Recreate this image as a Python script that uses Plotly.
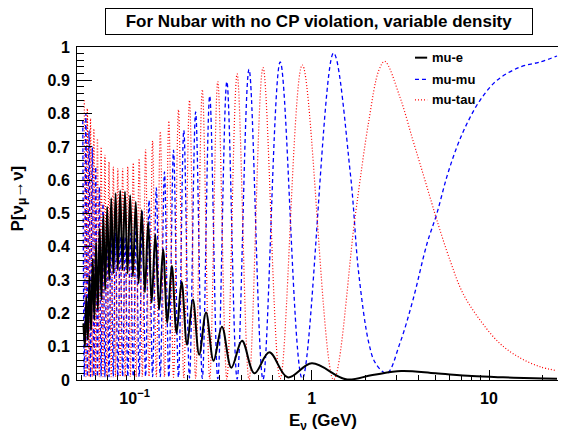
import math
import plotly.graph_objects as go

# ---------------- data ----------------
# mu -> e (black, solid): extrema and a few shape points
E_mue = [0.0514, 0.0524, 0.0534, 0.0545, 0.0556, 0.0568, 0.0580, 0.0593, 0.0606, 0.0620,
         0.0635, 0.0650, 0.0666, 0.0682, 0.0700, 0.0719, 0.0738, 0.0759, 0.0781, 0.0804,
         0.0829, 0.0855, 0.0882, 0.0912, 0.0944, 0.0978, 0.1015, 0.1054, 0.1097, 0.1143,
         0.1193, 0.1248, 0.1309, 0.1375, 0.1448, 0.1530, 0.1622, 0.1725, 0.1842, 0.1977,
         0.2132, 0.2314, 0.2530, 0.2791, 0.3111, 0.3515, 0.4039, 0.4746, 0.5754, 0.7305,
         1.0, 1.56, 2.2, 3.2, 5.0, 8.0, 12.0, 18.0, 24.2]
P_mue = [0.17, 0.10, 0.25, 0.12, 0.313, 0.15, 0.364, 0.18, 0.414, 0.21,
         0.455, 0.24, 0.495, 0.27, 0.52, 0.30, 0.546, 0.32, 0.561, 0.33,
         0.569, 0.33, 0.566, 0.32, 0.555, 0.31, 0.535, 0.29, 0.51, 0.263,
         0.475, 0.232, 0.437, 0.212, 0.392, 0.172, 0.343, 0.141, 0.295, 0.106,
         0.242, 0.076, 0.203, 0.058, 0.16, 0.037, 0.118, 0.02, 0.083, 0.008,
         0.05, 0.002, 0.015, 0.027, 0.02, 0.012, 0.008, 0.005, 0.004]

# mu -> mu (blue, dashed)
E_mumu = [0.0510, 0.0520, 0.0531, 0.0541, 0.0553, 0.0564, 0.0577, 0.0589, 0.0603, 0.0617,
          0.0632, 0.0647, 0.0663, 0.0680, 0.0698, 0.0717, 0.0737, 0.0758, 0.0780, 0.0804,
          0.0829, 0.0856, 0.0884, 0.0915, 0.0947, 0.0982, 0.1020, 0.1061, 0.1105, 0.1153,
          0.1206, 0.1263, 0.1326, 0.1396, 0.1474, 0.1560, 0.1658, 0.1768, 0.1895, 0.2040,
          0.2210, 0.2411, 0.2653, 0.2947, 0.3316, 0.3789, 0.4421, 0.5305, 0.663, 0.884,
          1.326, 1.65, 1.84, 2.10, 2.29, 2.653, 3.14, 3.72, 4.47, 5.08,
          5.78, 6.59, 7.51, 8.9, 11.1, 15.0, 19.4, 24.2]
P_mumu = [0.78, 0.01, 0.80, 0.01, 0.75, 0.01, 0.70, 0.01, 0.64, 0.01,
          0.58, 0.01, 0.53, 0.01, 0.49, 0.01, 0.46, 0.01, 0.44, 0.01,
          0.43, 0.01, 0.43, 0.01, 0.44, 0.01, 0.47, 0.01, 0.505, 0.01,
          0.54, 0.01, 0.577, 0.01, 0.625, 0.008, 0.69, 0.008, 0.75, 0.006,
          0.805, 0.005, 0.853, 0.004, 0.896, 0.003, 0.933, 0.002, 0.955, 0.004,
          0.982, 0.62, 0.32, 0.11, 0.05, 0.02, 0.11, 0.24, 0.41, 0.50,
          0.61, 0.70, 0.77, 0.84, 0.90, 0.94, 0.955, 0.973]

# mu -> tau (red, dotted)
E_mutau = [0.0520, 0.0531, 0.0541, 0.0553, 0.0564, 0.0577, 0.0589, 0.0603, 0.0617, 0.0632,
           0.0647, 0.0663, 0.0680, 0.0698, 0.0717, 0.0737, 0.0758, 0.0780, 0.0804, 0.0829,
           0.0856, 0.0884, 0.0915, 0.0947, 0.0982, 0.1020, 0.1061, 0.1105, 0.1153, 0.1206,
           0.1263, 0.1326, 0.1396, 0.1474, 0.1560, 0.1658, 0.1768, 0.1895, 0.2040, 0.2210,
           0.2411, 0.2653, 0.2947, 0.3316, 0.3789, 0.4421, 0.5305, 0.663, 0.884, 1.326,
           1.76, 2.10, 2.39, 2.58, 3.14, 3.72, 4.24, 4.76, 5.08, 6.02,
           7.13, 8.9, 11.5, 15.0, 19.4, 24.2]
P_mutau = [0.84, 0.01, 0.815, 0.01, 0.785, 0.01, 0.755, 0.01, 0.725, 0.01,
           0.70, 0.01, 0.675, 0.01, 0.655, 0.01, 0.64, 0.01, 0.635, 0.01,
           0.635, 0.01, 0.64, 0.01, 0.652, 0.01, 0.665, 0.01, 0.692, 0.01,
           0.718, 0.01, 0.746, 0.01, 0.778, 0.008, 0.812, 0.006, 0.84, 0.005,
           0.872, 0.004, 0.896, 0.003, 0.919, 0.002, 0.938, 0.004, 0.946, 0.001,
           0.495, 0.78, 0.93, 0.957, 0.85, 0.72, 0.62, 0.53, 0.48, 0.36,
           0.26, 0.18, 0.11, 0.066, 0.04, 0.028]

series_names = ["mu-e", "mu-mu", "mu-tau"]
title_text = "For Nubar with no CP violation, variable density"
x_tick_vals = [0.1, 1, 10]
x_tick_text = ["10<sup>\u22121</sup>", "1", "10"]

# ---------------- figure ----------------
FONT = "Liberation Sans, Arial, Helvetica, sans-serif"
BLUE_DASH = "4px,3px"
RED_DASH = "1px,2px"
fig = go.Figure()
fig.add_trace(go.Scatter(x=E_mumu, y=P_mumu, mode="lines", name=series_names[1],
                         line=dict(color="#0000ff", width=1.3, dash=BLUE_DASH,
                                   shape="spline", smoothing=1), showlegend=False))
fig.add_trace(go.Scatter(x=E_mutau, y=P_mutau, mode="lines", name=series_names[2],
                         line=dict(color="#ff0000", width=1.2, dash=RED_DASH,
                                   shape="spline", smoothing=1), showlegend=False))
fig.add_trace(go.Scatter(x=E_mue, y=P_mue, mode="lines", name=series_names[0],
                         line=dict(color="#000000", width=2,
                                   shape="spline", smoothing=1), showlegend=False))

minor_x = [m * 10 ** k for k in range(-2, 2) for m in range(2, 10)]

# the page body adds an 8px offset, so the figure is 8px smaller than the window
fig.update_layout(
    width=558, height=424,
    margin=dict(l=69, r=2, t=39, b=52, autoexpand=False),
    paper_bgcolor="white", plot_bgcolor="white",
    font=dict(family=FONT, size=16, color="black", weight="bold"),
    xaxis=dict(type="log", range=[math.log10(0.0473), math.log10(26.5)],
               tickmode="array", tickvals=x_tick_vals, ticktext=x_tick_text,
               ticks="inside", ticklen=10, tickwidth=1, tickcolor="black",
               minor=dict(tickmode="array", tickvals=minor_x, ticks="inside",
                          ticklen=5, tickwidth=1, tickcolor="black", showgrid=False),
               showline=True, linecolor="black", linewidth=1, mirror=True,
               showgrid=False, zeroline=False, ticklabelstandoff=4, automargin=False,
               tickfont=dict(family=FONT, size=16, weight="bold")),
    yaxis=dict(range=[0, 1], tickmode="linear", tick0=0, dtick=0.1,
               ticks="inside", ticklen=15, tickwidth=1, tickcolor="black",
               minor=dict(dtick=0.02, ticks="inside", ticklen=7, tickwidth=1,
                          tickcolor="black", showgrid=False),
               showline=True, linecolor="black", linewidth=1, mirror=True,
               showgrid=False, zeroline=False, ticklabelstandoff=3, automargin=False,
               tickfont=dict(family=FONT, size=16, weight="bold")),
)

# title box
fig.add_annotation(xref="paper", yref="paper", x=0.497, y=1.077,
                   xanchor="center", yanchor="middle", showarrow=False,
                   text=title_text, font=dict(family=FONT, size=17, weight="bold"),
                   bordercolor="black", borderwidth=1, borderpad=3,
                   bgcolor="white", width=420, height=19)
# axis titles
fig.add_annotation(xref="paper", yref="paper", x=0.505, y=-0.126,
                   xanchor="center", yanchor="middle", showarrow=False,
                   text="E<sub>\u03bd</sub> (GeV)",
                   font=dict(family=FONT, size=17, weight="bold"))
fig.add_annotation(xref="paper", yref="paper", x=-0.121, y=0.545,
                   xanchor="center", yanchor="middle", showarrow=False, textangle=-90,
                   text="P[\u03bd<sub>\u03bc</sub>\u2192\u03bd]",
                   font=dict(family=FONT, size=17, weight="bold"))

# legend (drawn manually, ROOT style: short samples, no border)
leg_rows = [0.968, 0.903, 0.841]
leg_styles = [dict(color="#000000", width=2, dash="solid"),
              dict(color="#0000ff", width=1.3, dash=BLUE_DASH),
              dict(color="#ff0000", width=1.2, dash=RED_DASH)]
for name, yy, st in zip(series_names, leg_rows, leg_styles):
    fig.add_shape(type="line", xref="paper", yref="paper", x0=0.694, x1=0.719,
                  y0=yy, y1=yy, line=st)
    fig.add_annotation(xref="paper", yref="paper", x=0.725, y=yy, xanchor="left",
                       yanchor="middle", showarrow=False, text=name,
                       font=dict(family=FONT, size=13, weight="bold"))

fig.write_html("out.html")
